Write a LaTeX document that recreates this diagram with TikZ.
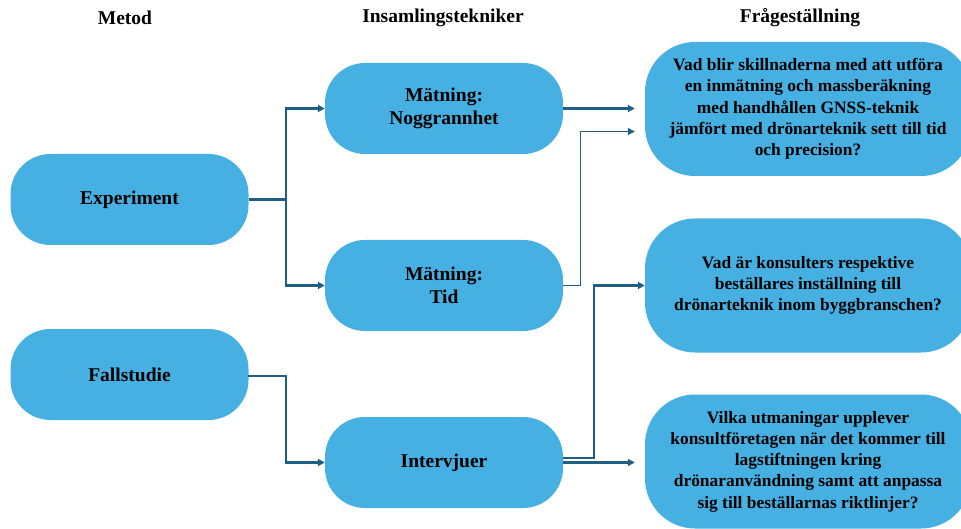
\documentclass[tikz,border=0pt]{standalone}
\usepackage{fontspec}
\setmainfont{Liberation Serif}
\usetikzlibrary{arrows.meta}
\definecolor{boxblue}{RGB}{69,176,225}
\definecolor{linkblue}{RGB}{31,94,133}

\begin{document}
\begin{tikzpicture}[x=1pt, y=-1pt,
	box/.style={fill=boxblue, rounded corners=40pt, minimum width=238pt, minimum height=91pt, inner sep=0pt, align=center, font=\fontsize{19.5}{23.3}\selectfont\bfseries},
	qbox/.style={fill=boxblue, rounded corners=50pt, minimum width=326pt, minimum height=134pt, inner sep=0pt, align=center, font=\fontsize{17.4}{21.3}\selectfont\bfseries},
	head/.style={font=\fontsize{19.5}{23.3}\selectfont\bfseries},
	link/.style={draw=linkblue, line width=2.2pt, -{Triangle[length=7pt,width=7pt]}}]
	\useasboundingbox (0,0) rectangle (961,529);
	% column heads
	\node[head] (hmetod) at (125,18) {Metod};
	\node[head] (hinsaml) at (443,18) {Insamlingstekniker};
	\node[head] (hfraga) at (800,18) {Frågeställning};
	% boxes
	\node[box] (exp) at (129.5,199.5) {Experiment};
	\node[box] (fall) at (129.5,374.5) {Fallstudie};
	\node[box] (matA) at (444,108.5) {Mätning:\\Noggrannhet};
	\node[box] (matB) at (444,285.5) {Mätning:\\Tid};
	\node[box] (intv) at (444,462.5) {Intervjuer};
	\node[qbox] (qA) at (808,109) {Vad blir skillnaderna med att utföra\\en inmätning och massberäkning\\med handhållen GNSS-teknik\\jämfört med drönarteknik sett till tid\\och precision?};
	\node[qbox] (qB) at (808,285.5) {Vad är konsulters respektive\\beställares inställning till\\drönarteknik inom byggbranschen?};
	\node[qbox] (qC) at (808,461.5) {Vilka utmaningar upplever\\konsultföretagen när det kommer till\\lagstiftningen kring\\drönaranvändning samt att anpassa\\sig till beställarnas riktlinjer?};
	\coordinate (splitA) at (286,199.5);
	\coordinate (splitB) at (286,376);
%
	\draw[link] (exp.east) -- (splitA) |- (matA.west);
	\draw[link] (exp.east) -- (splitA) |- (matB.west);
	\draw[link] (fall.east) |- (splitB) |- (intv.west);
	\draw[link, shorten >=10pt] (matA.east) -- (matA.east -| qA.west);
	\draw[link, line width=1.3pt, shorten >=10pt] (matB.east) -- ++(17,0) |- ([yshift=-22.5pt]qA.west);
	\draw[link] ([yshift=4.5pt]intv.east) -- ++(31,0) |- (qB.west);
	\draw[link, shorten >=10pt] (intv.east) -- (intv.east -| qC.west);
\end{tikzpicture}
\end{document}
